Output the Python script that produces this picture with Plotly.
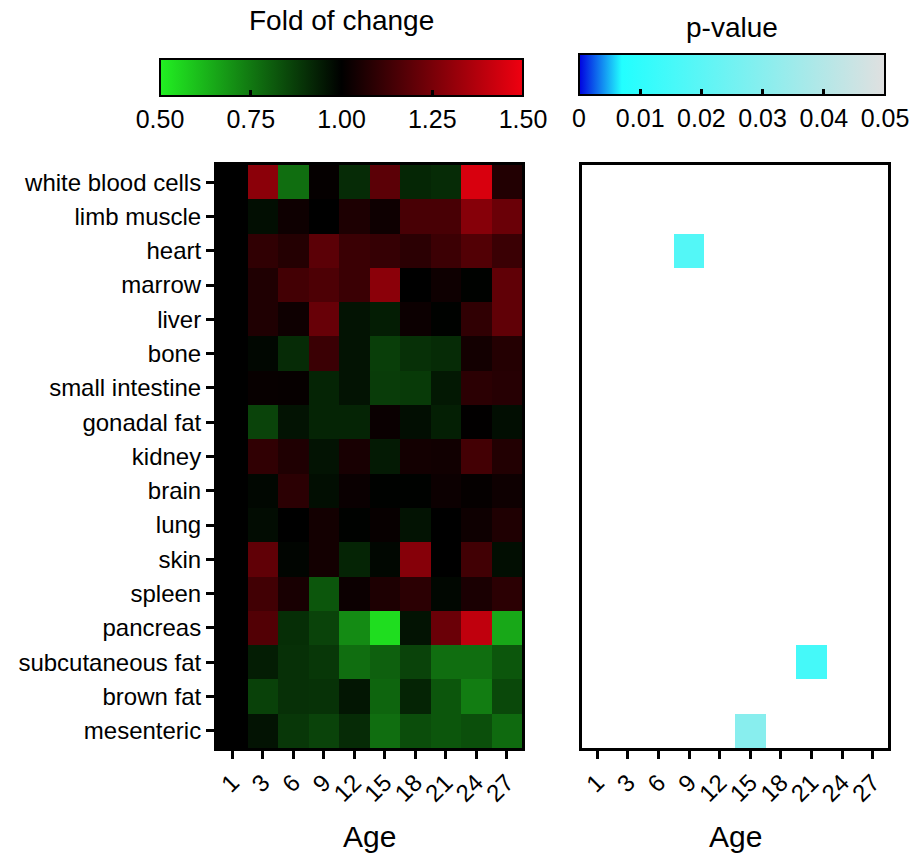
import plotly.graph_objects as go

ages = ["1", "3", "6", "9", "12", "15", "18", "21", "24", "27"]
tissues = ["white blood cells", "limb muscle", "heart", "marrow", "liver", "bone",
           "small intestine", "gonadal fat", "kidney", "brain", "lung", "skin",
           "spleen", "pancreas", "subcutaneous fat", "brown fat", "mesenteric"]

# fold of change, one row per tissue, columns follow ages
fold_change = [
    [1.00, 1.29, 0.77, 1.01, 0.91, 1.19, 0.92, 0.91, 1.45, 1.07],
    [1.00, 0.97, 1.03, 1.00, 1.06, 1.03, 1.15, 1.15, 1.28, 1.22],
    [1.00, 1.10, 1.075, 1.19, 1.12, 1.11, 1.09, 1.125, 1.17, 1.12],
    [1.00, 1.065, 1.14, 1.16, 1.12, 1.29, 1.00, 1.03, 0.995, 1.20],
    [1.00, 1.065, 1.03, 1.215, 0.96, 0.94, 1.025, 0.995, 1.10, 1.20],
    [1.00, 0.985, 0.91, 1.12, 0.96, 0.87, 0.90, 0.91, 1.04, 1.075],
    [1.00, 1.015, 1.012, 0.925, 0.96, 0.875, 0.88, 0.95, 1.09, 1.08],
    [1.00, 0.86, 0.96, 0.925, 0.925, 1.02, 0.97, 0.935, 1.005, 0.97],
    [1.00, 1.10, 1.065, 0.96, 1.05, 0.945, 1.04, 1.035, 1.14, 1.07],
    [1.00, 0.985, 1.09, 0.97, 1.02, 0.995, 0.995, 1.025, 1.01, 1.03],
    [1.00, 0.975, 1.00, 1.04, 0.995, 1.015, 0.96, 1.00, 1.03, 1.065],
    [1.00, 1.20, 0.99, 1.04, 0.925, 0.985, 1.28, 1.00, 1.135, 0.97],
    [1.00, 1.135, 1.05, 0.82, 1.025, 1.06, 1.09, 0.985, 1.055, 1.09],
    [1.00, 1.17, 0.905, 0.86, 0.71, 0.54, 0.96, 1.22, 1.40, 0.65],
    [1.00, 0.94, 0.90, 0.885, 0.77, 0.80, 0.86, 0.77, 0.77, 0.82],
    [1.00, 0.865, 0.90, 0.895, 0.955, 0.79, 0.925, 0.82, 0.74, 0.85],
    [1.00, 0.96, 0.885, 0.86, 0.91, 0.77, 0.84, 0.82, 0.835, 0.78],
]

# significant cells (p < 0.05); all other cells are blank
sig_tissue = ["heart", "subcutaneous fat", "mesenteric"]
sig_age = ["9", "21", "15"]
sig_p = [0.018, 0.015, 0.030]

fold_ticks = [0.5, 0.75, 1.0, 1.25, 1.5]
fold_ticktext = ["0.50", "0.75", "1.00", "1.25", "1.50"]
p_ticks = [0, 0.01, 0.02, 0.03, 0.04, 0.05]
p_ticktext = ["0", "0.01", "0.02", "0.03", "0.04", "0.05"]

pmat = [[None for _ in ages] for _ in tissues]
for t, a, p in zip(sig_tissue, sig_age, sig_p):
    pmat[tissues.index(t)][ages.index(a)] = p

W, H = 913, 862
FONT = "Liberation Sans, Arial, sans-serif"

def px_x(v):
    return v / W

def px_y(v):
    return 1 - v / H

fold_scale = [[0.0, "#22f022"], [0.5, "#000000"], [1.0, "#f00010"]]
p_scale = [[0.0, "#0000e0"], [0.14, "#22ffff"], [1.0, "#e0e0e0"]]

fig = go.Figure()
fig.add_trace(go.Heatmap(
    z=fold_change, x=ages, y=tissues, zmin=0.5, zmax=1.5,
    colorscale=fold_scale, xaxis="x", yaxis="y", hoverongaps=False,
    colorbar=dict(
        orientation="h", x=px_x((160 + 523) / 2), xanchor="center",
        y=px_y(141), yanchor="bottom", len=(523 - 160) / W, lenmode="fraction",
        thickness=37, thicknessmode="pixels", xpad=0, ypad=0,
        outlinewidth=2, outlinecolor="black",
        ticks="inside", ticklen=7, tickwidth=3, tickcolor="black",
        tickvals=fold_ticks, ticktext=fold_ticktext,
        tickfont=dict(family=FONT, size=25, color="black"),
    ),
))
fig.add_trace(go.Heatmap(
    z=pmat, x=ages, y=tissues, zmin=0, zmax=0.05,
    colorscale=p_scale, xaxis="x2", yaxis="y2", hoverongaps=False,
    colorbar=dict(
        orientation="h", x=px_x((579 + 885) / 2), xanchor="center",
        y=px_y(140), yanchor="bottom", len=(885 - 579) / W, lenmode="fraction",
        thickness=41, thicknessmode="pixels", xpad=0, ypad=0,
        outlinewidth=2, outlinecolor="black",
        ticks="inside", ticklen=7, tickwidth=3, tickcolor="black",
        tickvals=p_ticks, ticktext=p_ticktext,
        tickfont=dict(family=FONT, size=25, color="black"),
    ),
))

ydom = [px_y(748), px_y(165)]
common_x = dict(
    type="category", showline=True, linewidth=3, linecolor="black", mirror=True,
    ticks="outside", ticklen=8, tickwidth=3, tickcolor="black", tickangle=-45,
    tickfont=dict(family=FONT, size=24, color="black"), showgrid=False,
    zeroline=False, automargin=False, fixedrange=True,
)
fig.update_layout(
    width=W, height=H, margin=dict(l=0, r=0, t=0, b=0),
    paper_bgcolor="white", plot_bgcolor="white",
    font=dict(family=FONT, color="black"),
    xaxis=dict(domain=[px_x(217), px_x(522)], anchor="y", **common_x),
    yaxis=dict(domain=ydom, anchor="x", type="category", autorange="reversed",
               showline=True, linewidth=3, linecolor="black", mirror=True,
               ticks="outside", ticklen=8, tickwidth=3, tickcolor="black",
               tickfont=dict(family=FONT, size=24, color="black"),
               showgrid=False, zeroline=False, automargin=False),
    xaxis2=dict(domain=[px_x(582), px_x(888)], anchor="y2", **common_x),
    yaxis2=dict(domain=ydom, anchor="x2", type="category", autorange="reversed",
                showline=True, linewidth=3, linecolor="black", mirror=True,
                ticks="", showticklabels=False, showgrid=False,
                zeroline=False, automargin=False),
    annotations=[
        dict(text="Fold of change", x=px_x(341), y=px_y(20), xref="paper", yref="paper",
             xanchor="center", yanchor="middle", showarrow=False,
             font=dict(family=FONT, size=28, color="black")),
        dict(text="p-value", x=px_x(732), y=px_y(28), xref="paper", yref="paper",
             xanchor="center", yanchor="middle", showarrow=False,
             font=dict(family=FONT, size=28, color="black")),
        dict(text="Age", x=px_x(369), y=px_y(836), xref="paper", yref="paper",
             xanchor="center", yanchor="middle", showarrow=False,
             font=dict(family=FONT, size=30, color="black")),
        dict(text="Age", x=px_x(735), y=px_y(836), xref="paper", yref="paper",
             xanchor="center", yanchor="middle", showarrow=False,
             font=dict(family=FONT, size=30, color="black")),
    ],
)

fig.write_html("out.html")
